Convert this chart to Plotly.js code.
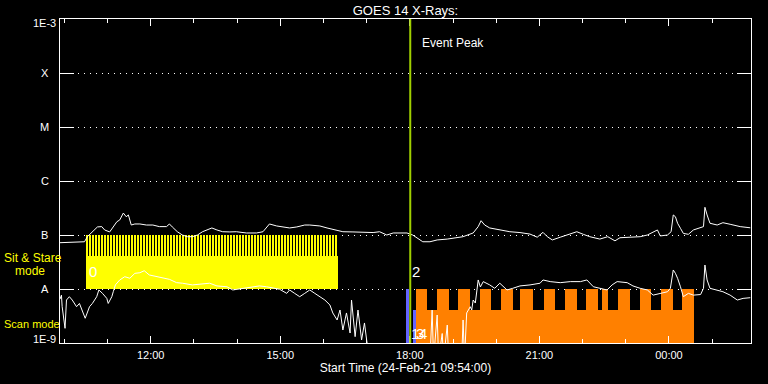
<!DOCTYPE html>
<html>
<head>
<meta charset="utf-8">
<script src="https://cdn.plot.ly/plotly-3.0.1.min.js"></script>
<style>
html,body{margin:0;padding:0;background:#000;}
#chart{width:768px;height:384px;}
.js-fill{shape-rendering:crispEdges;}
</style>
</head>
<body>
<div id="chart"></div>
<script>
// ---------- data ----------
const startDay = '2021-02-24', nextDay = '2021-02-25';
const rangeStart = '09:54', rangeEnd = '01:54';

// Long channel (upper white curve)
const longTimes = ['09:54','10:28','10:32','10:39','10:46','10:52','10:56','11:03','11:07','11:13',
 '11:17','11:22','11:26','11:29','11:33','11:38','11:45','11:54','12:03','12:12',
 '12:22','12:26','12:30','12:37','12:44','12:51','12:58','13:05','13:12','13:25',
 '13:32','13:40','13:50','13:59','14:13','14:27','14:36','14:45','14:55','15:03',
 '15:13','15:23','15:34','15:41','15:55','16:05','16:19','16:27','16:41','16:55',
 '17:09','17:18','17:28','17:37','17:46','17:56','18:04','18:11','18:18','18:28',
 '18:38','18:52','19:03','19:14','19:28','19:35','19:39','19:44','19:51','20:05',
 '20:19','20:33','20:47','20:57','21:05','21:11','21:18','21:29','21:43','21:52',
 '22:01','22:10','22:24','22:35','22:45','22:52','23:06','23:20','23:30','23:44',
 '23:48','23:58','00:03','00:06','00:09','00:12','00:16','00:20','00:27','00:34',
 '00:48','00:50','00:53','00:57','01:07','01:15','01:25','01:39','01:53'];
const longFlux = [7.2e-8,7.5e-8,9.3e-8,1.15e-7,1.41e-7,1.43e-7,1.24e-7,1.14e-7,1.35e-7,1.76e-7,
 1.9e-7,2.55e-7,2.18e-7,2.35e-7,1.53e-7,1.6e-7,1.6e-7,1.53e-7,1.53e-7,1.43e-7,
 1.43e-7,1.6e-7,1.41e-7,1.15e-7,1.0e-7,9.3e-8,9.3e-8,1.0e-7,1.15e-7,1.35e-7,
 1.24e-7,1.15e-7,1.14e-7,1.15e-7,1.09e-7,1.09e-7,1.15e-7,1.6e-7,1.47e-7,1.43e-7,
 1.35e-7,1.41e-7,1.53e-7,1.53e-7,1.47e-7,1.35e-7,1.24e-7,1.15e-7,1.14e-7,1.11e-7,
 1.11e-7,1.15e-7,1.0e-7,1.09e-7,1.09e-7,1.09e-7,1.0e-7,8.8e-8,7.5e-8,7.5e-8,
 8.1e-8,8.4e-8,8.8e-8,9.3e-8,1.09e-7,1.43e-7,1.84e-7,1.53e-7,1.35e-7,1.24e-7,
 1.15e-7,1.11e-7,1.04e-7,9.1e-8,1.12e-7,9.3e-8,8.1e-8,9.1e-8,1.03e-7,1.15e-7,
 1.03e-7,9.3e-8,8.4e-8,9.3e-8,7.8e-8,8.9e-8,9.1e-8,9.3e-8,1.0e-7,1.24e-7,
 9.6e-8,1.0e-7,1.15e-7,2.35e-7,2.18e-7,1.65e-7,1.33e-7,1.07e-7,1.03e-7,1.24e-7,
 1.43e-7,3.26e-7,2.35e-7,1.65e-7,1.53e-7,1.69e-7,1.58e-7,1.43e-7,1.36e-7];

// Short channel (lower white curve); null = no data (below 1E-9)
const shortTimes = ['09:54','09:56','09:57','10:01','10:03','10:07','10:11','10:17','10:21','10:25',
 '10:29','10:35','10:39','10:45','10:48','10:53','10:59','11:01','11:06','11:08',
 '11:11','11:17','11:24','11:31','11:38','11:45','11:51','11:58','12:08','12:17',
 '12:26','12:36','12:44','12:58','13:08','13:22','13:32','13:46','13:54','14:08',
 '14:22','14:31','14:41','14:50','14:59','15:09','15:13','15:20','15:27','15:34',
 '15:41','15:48','15:55','16:02','16:09','16:13','16:19','16:23','16:27','16:32',
 '16:37','16:39','16:44','16:48','16:53','16:57','17:00','17:04','17:30','18:28',
 '18:31','18:33','18:38','18:40','18:45','18:47','18:52','18:54','19:12','19:14',
 '19:16','19:19','19:24','19:26','19:28','19:31','19:33','19:35','19:38','19:42',
 '19:51','19:58','20:05','20:15','20:23','20:33','20:47','21:01','21:05','21:15',
 '21:29','21:43','21:57','22:06','22:15','22:24','22:34','22:41','22:48','23:02',
 '23:10','23:20','23:30','23:38','23:48','23:58','00:02','00:06','00:09','00:12',
 '00:16','00:20','00:27','00:34','00:44','00:48','00:50','00:53','00:57','01:07',
 '01:15','01:25','01:35','01:43','01:53'];
const shortFlux = [6.5e-9,7.7e-9,4.7e-9,1.87e-9,6.25e-9,7.2e-9,6.25e-9,4.7e-9,5.4e-9,3.8e-9,
 2.87e-9,4.7e-9,5.4e-9,7.2e-9,9.6e-9,8.3e-9,6.7e-9,5.4e-9,7.2e-9,8.9e-9,
 1.19e-8,1.47e-8,1.69e-8,1.58e-8,1.95e-8,2.0e-8,2.18e-8,1.82e-8,1.69e-8,1.58e-8,
 1.51e-8,1.31e-8,1.28e-8,1.19e-8,1.22e-8,1.28e-8,1.14e-8,1.10e-8,9.6e-9,1.03e-8,
 1.10e-8,1.14e-8,1.10e-8,1.03e-8,9.9e-9,8.3e-9,9.6e-9,8.3e-9,7.2e-9,8.3e-9,
 9.6e-9,8.3e-9,7.2e-9,6.25e-9,5.06e-9,3.6e-9,2.67e-9,4.08e-9,1.74e-9,3.6e-9,
 1.53e-9,6.25e-9,1.31e-9,4.08e-9,1.14e-9,2.35e-9,1.14e-9,5e-10,null,5e-10,
 4.08e-9,5e-10,3.3e-9,5e-10,1.5e-9,5e-10,2.15e-9,5e-10,5e-10,2.67e-9,
 5e-10,3.6e-9,4.7e-9,4.08e-9,6.25e-9,5.5e-9,8.3e-9,1.47e-8,1.09e-8,1.37e-8,
 1.19e-8,1.03e-8,1.28e-8,9.6e-9,1.03e-8,1.14e-8,1.19e-8,1.28e-8,1.47e-8,1.37e-8,
 1.31e-8,1.37e-8,1.37e-8,1.47e-8,1.10e-8,1.03e-8,9.6e-9,1.19e-8,1.37e-8,1.31e-8,
 1.14e-8,1.03e-8,9.6e-9,7.7e-9,8.3e-9,8.9e-9,1.03e-8,2.25e-8,1.95e-8,1.58e-8,
 1.10e-8,7.2e-9,8.3e-9,7.7e-9,7.9e-9,1.03e-8,2.78e-8,1.47e-8,1.03e-8,9.6e-9,
 8.9e-9,7.7e-9,6.25e-9,6.7e-9,6.9e-9];

// Sit & Stare mode (yellow): solid block + individual exposures
const sitStareBlock = {start:'10:29:30', end:'16:20:00', low:1e-8, high:4e-8};
const sitStareStarts = ['10:30:27','10:34:37','10:38:47','10:42:57','10:47:07','10:51:17','10:55:27','10:59:37','11:03:47','11:07:57',
 '11:12:07','11:16:17','11:20:27','11:24:37','11:28:47','11:32:57','11:37:07','11:41:17','11:45:27','11:49:37',
 '11:53:47','11:57:57','12:02:07','12:06:17','12:10:27','12:14:37','12:18:47','12:22:57','12:27:07','12:31:17',
 '12:35:27','12:39:37','12:43:47','12:47:57','12:52:07','12:56:17','13:00:27','13:04:37','13:08:47','13:12:57',
 '13:17:07','13:21:17','13:25:27','13:29:37','13:33:47','13:37:57','13:42:07','13:46:17','13:50:27','13:54:37',
 '13:58:47','14:02:57','14:07:07','14:11:17','14:15:27','14:19:37','14:23:47','14:27:57','14:32:07','14:36:17',
 '14:40:27','14:44:37','14:48:47','14:52:57','14:57:07','15:01:17','15:05:27','15:09:37','15:13:47','15:17:57',
 '15:22:07','15:26:17','15:30:27','15:34:37','15:38:47','15:42:57','15:47:07','15:51:17','15:55:27','15:59:37',
 '16:03:47','16:07:57','16:12:07','16:16:17'];
const sitStareExposureSec = 167;
const sitStareLow = 4e-8, sitStareHigh = 1e-7;

// Blue observations just before the peak
const blueStarts = ['17:55','18:04'];
const blueEnds   = ['17:59','18:08'];
const blueTops   = [1e-8, 4e-9];

// Scan mode (orange): base block + raster blocks
const scanBlock = {start:'18:08', end:'00:35', low:1e-10, high:4e-9};
const scanStarts = ['18:08','18:38','19:07','19:37','20:07','20:33','21:07','21:36','22:05','22:27','22:49','23:20','23:49','00:18'];
const scanEnds   = ['18:24','18:54','19:24','19:53','20:23','20:51','21:22','21:52','22:22','22:36','23:06','23:35','00:05','00:35'];
const scanLow = 4e-9, scanHigh = 1e-8;

const peakTime = '18:00:36';

// Observation index labels
const obsLabels = ['0','1','2','3','4'];
const obsTimes  = ['10:31','17:59','18:00','18:06','18:10'];
const obsFlux   = [2.15e-8,1.53e-9,2.15e-8,1.53e-9,1.53e-9];

// Y axis class labels
const yTickVals = [1e-9,1e-8,1e-7,1e-6,1e-5,1e-4,1e-3];
const yTickText = ['1E-9','A','B','C','M','X','1E-3'];

// ---------- helpers ----------
function toDate(t){
  const day = (t < '09:00') ? nextDay : startDay;
  return day + ' ' + (t.length === 5 ? t + ':00' : t);
}
function addSec(t, s){
  const d = new Date(toDate(t).replace(' ','T') + 'Z');
  d.setUTCSeconds(d.getUTCSeconds() + s);
  return d.toISOString().slice(0,19).replace('T',' ');
}
function rects(starts, ends, lows, highs){
  const x = [], y = [];
  for (let i = 0; i < starts.length; i++){
    const a = starts[i], b = ends[i];
    x.push(a, a, b, b, a, null);
    y.push(lows[i], highs[i], highs[i], lows[i], lows[i], null);
  }
  return {x, y};
}
const rep = (v, n) => Array(n).fill(v);

const yellowBlock = rects([toDate(sitStareBlock.start)],[toDate(sitStareBlock.end)],[sitStareBlock.low],[sitStareBlock.high]);
const yellowStripes = rects(sitStareStarts.map(toDate), sitStareStarts.map(t => addSec(t, sitStareExposureSec)),
  rep(sitStareLow, sitStareStarts.length), rep(sitStareHigh, sitStareStarts.length));
const blue = rects(blueStarts.map(toDate), blueEnds.map(toDate), rep(1e-10, blueStarts.length), blueTops);
const orangeBase = rects([toDate(scanBlock.start)],[toDate(scanBlock.end)],[scanBlock.low],[scanBlock.high]);
const orangeTop = rects(scanStarts.map(toDate), scanEnds.map(toDate), rep(scanLow, scanStarts.length), rep(scanHigh, scanStarts.length));

const fillTrace = (r, color) => ({x:r.x, y:r.y, type:'scatter', mode:'lines', fill:'toself',
  fillcolor:color, line:{width:0, color:color}, hoverinfo:'skip', showlegend:false});

const data = [
  fillTrace(yellowBlock, '#ffff00'),
  fillTrace(yellowStripes, '#ffff00'),
  fillTrace(blue, '#6464ff'),
  fillTrace(orangeBase, '#ff8000'),
  fillTrace(orangeTop, '#ff8000'),
  {x: longTimes.map(toDate), y: longFlux, type:'scatter', mode:'lines',
   line:{color:'#ffffff', width:1}, showlegend:false, hoverinfo:'skip'},
  {x: shortTimes.map(toDate), y: shortFlux, type:'scatter', mode:'lines', connectgaps:false,
   line:{color:'#ffffff', width:1}, showlegend:false, hoverinfo:'skip'}
];

const FONT = 'Liberation Sans, Arial, sans-serif';
const annotations = [];
yTickVals.forEach((v, i) => {
  const last = yTickVals.length - 1;
  annotations.push({xref:'paper', yref:'y', x:-0.0224, y:Math.log10(v), text:yTickText[i],
    showarrow:false, xanchor:'center', yanchor:'middle', yshift: i === 0 ? 4 : (i === last ? -4 : 0),
    font:{family:FONT, size:11, color:'#ffffff'}});
});
obsLabels.forEach((s, i) => {
  annotations.push({xref:'x', yref:'y', x:toDate(obsTimes[i]), y:Math.log10(obsFlux[i]), text:s,
    showarrow:false, xanchor:'left', yanchor:'middle', font:{family:FONT, size:15, color:'#ffffff'}});
});
annotations.push({xref:'x', yref:'paper', x:addSec(peakTime, 800), y:0.926, text:'Event Peak', showarrow:false,
  xanchor:'left', yanchor:'middle', font:{family:FONT, size:12, color:'#ffffff'}});
annotations.push({xref:'paper', yref:'paper', x:-0.0839, y:0.2623, text:'Sit & Stare', showarrow:false,
  xanchor:'left', yanchor:'middle', font:{family:FONT, size:12, color:'#ffff00'}});
annotations.push({xref:'paper', yref:'paper', x:-0.068, y:0.2222, text:'mode', showarrow:false,
  xanchor:'left', yanchor:'middle', font:{family:FONT, size:12, color:'#ffff00'}});
annotations.push({xref:'paper', yref:'paper', x:-0.0839, y:0.0586, text:'Scan mode', showarrow:false,
  xanchor:'left', yanchor:'middle', font:{family:FONT, size:11, color:'#ffff00'}});

const layout = {
  width:768, height:384,
  paper_bgcolor:'#000000', plot_bgcolor:'#000000',
  margin:{l:60, r:17, t:19, b:41},
  font:{family:FONT, color:'#ffffff', size:11},
  title:{text:'GOES 14 X-Rays:', font:{family:FONT, size:13, color:'#ffffff'},
    xref:'paper', x:0.5, xanchor:'center', yref:'container', y:0.974, yanchor:'middle'},
  xaxis:{type:'date', range:[toDate(rangeStart), toDate(rangeEnd)],
    tick0: startDay + ' 00:00:00', dtick: 3*3600000, tickformat:'%H:%M',
    ticks:'inside', ticklen:7, tickcolor:'#ffffff', tickwidth:1, ticklabelstandoff:2,
    minor:{dtick:3600000, ticks:'inside', ticklen:4, tickcolor:'#ffffff', tickwidth:1, showgrid:false},
    showline:true, linecolor:'#ffffff', linewidth:1, mirror:'allticks',
    showgrid:false, zeroline:false, automargin:false,
    tickfont:{family:FONT, size:11, color:'#ffffff'},
    title:{text:'Start Time (24-Feb-21 09:54:00)', font:{family:FONT, size:12, color:'#ffffff'}, standoff:2}},
  yaxis:{type:'log', range:[-9,-3], tickvals:yTickVals, showticklabels:false,
    ticks:'inside', ticklen:14, tickcolor:'#ffffff', tickwidth:1,
    showline:true, linecolor:'#ffffff', linewidth:1, mirror:'allticks',
    showgrid:true, gridcolor:'#ffffff', gridwidth:1, griddash:'1px,5px',
    zeroline:false, automargin:false},
  shapes:[{type:'line', xref:'x', yref:'paper', x0:toDate(peakTime), x1:toDate(peakTime), y0:0, y1:1,
    line:{color:'#a0d000', width:2}, layer:'above'}],
  annotations: annotations,
  showlegend:false
};

Plotly.newPlot('chart', data, layout, {staticPlot:true, displayModeBar:false});
</script>
</body>
</html>
